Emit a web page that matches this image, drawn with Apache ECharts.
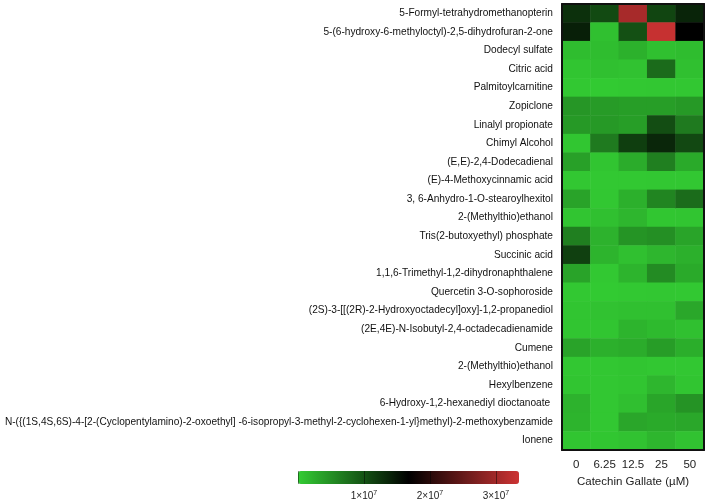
<!DOCTYPE html>
<html>
<head>
<meta charset="utf-8">
<script src="https://cdn.jsdelivr.net/npm/echarts@6/dist/echarts.min.js"></script>
<style>
  html, body { margin: 0; padding: 0; background: #fff; }
  #heat { width: 708px; height: 500px; }
</style>
</head>
<body>
<div id="heat"></div>
<script>
// metabolites (rows, top to bottom)
var compounds = [
  "5-Formyl-tetrahydromethanopterin",
  "5-(6-hydroxy-6-methyloctyl)-2,5-dihydrofuran-2-one",
  "Dodecyl sulfate",
  "Citric acid",
  "Palmitoylcarnitine",
  "Zopiclone",
  "Linalyl propionate",
  "Chimyl Alcohol",
  "(E,E)-2,4-Dodecadienal",
  "(E)-4-Methoxycinnamic acid",
  "3, 6-Anhydro-1-O-stearoylhexitol",
  "2-(Methylthio)ethanol",
  "Tris(2-butoxyethyl) phosphate",
  "Succinic acid",
  "1,1,6-Trimethyl-1,2-dihydronaphthalene",
  "Quercetin 3-O-sophoroside",
  "(2S)-3-[[(2R)-2-Hydroxyoctadecyl]oxy]-1,2-propanediol",
  "(2E,4E)-N-Isobutyl-2,4-octadecadienamide",
  "Cumene",
  "2-(Methylthio)ethanol",
  "Hexylbenzene",
  "6-Hydroxy-1,2-hexanediyl dioctanoate ",
  "N-({(1S,4S,6S)-4-[2-(Cyclopentylamino)-2-oxoethyl] -6-isopropyl-3-methyl-2-cyclohexen-1-yl}methyl)-2-methoxybenzamide",
  "Ionene"
];
// catechin gallate doses (columns)
var doses = ["0", "6.25", "12.5", "25", "50"];

// peak intensity, in units of 1e7, one array per dose
var dose0    = [1.28, 1.42, 0.12, 0.06, 0.03, 0.44, 0.42, 0.05, 0.36, 0.04, 0.34, 0.06, 0.63, 1.15, 0.34, 0.03, 0.06, 0.06, 0.34, 0.04, 0.06, 0.21, 0.20, 0.06];
var dose6_25 = [1.07, 0.10, 0.12, 0.10, 0.02, 0.40, 0.42, 0.67, 0.06, 0.03, 0.04, 0.10, 0.21, 0.20, 0.03, 0.02, 0.08, 0.06, 0.23, 0.04, 0.04, 0.04, 0.04, 0.05];
var dose12_5 = [3.05, 1.02, 0.22, 0.08, 0.03, 0.38, 0.38, 1.17, 0.26, 0.03, 0.23, 0.18, 0.46, 0.10, 0.20, 0.03, 0.10, 0.20, 0.26, 0.06, 0.06, 0.11, 0.31, 0.08];
var dose25   = [1.11, 3.30, 0.10, 0.80, 0.04, 0.38, 1.04, 1.36, 0.63, 0.04, 0.58, 0.05, 0.50, 0.18, 0.53, 0.04, 0.10, 0.15, 0.39, 0.04, 0.18, 0.32, 0.28, 0.18];
var dose50   = [1.38, 1.675, 0.12, 0.10, 0.04, 0.42, 0.67, 1.08, 0.28, 0.04, 0.79, 0.06, 0.33, 0.23, 0.28, 0.03, 0.30, 0.10, 0.25, 0.04, 0.06, 0.47, 0.30, 0.08];

// colour scale range and tick labels (units of 1e7)
var scaleMin = 0;
var scaleMax = 3.35;
var scaleTicks = { 1: "1", 2: "2", 3: "3" };

var columns = [dose0, dose6_25, dose12_5, dose25, dose50];
var cells = [];
columns.forEach(function (col, x) {
  col.forEach(function (v, y) {
    cells.push([x, y, v]);
  });
});

var font = "'Liberation Sans', Arial, sans-serif";
var chart = echarts.init(document.getElementById("heat"));

chart.setOption({
  animation: false,
  grid: [
    { left: 562, right: 4, top: 4, bottom: 50, outerBoundsMode: "none", containLabel: false },
    // colour bar ticks
    { left: 298, top: 471, width: 221, height: 13, outerBoundsMode: "none", containLabel: false }
  ],
  xAxis: [
    {
      type: "category",
      gridIndex: 0,
      data: doses,
      position: "bottom",
      z: 5,
      name: "Catechin Gallate (\u00b5M)",
      nameLocation: "middle",
      nameGap: 26,
      nameTextStyle: { fontFamily: font, fontSize: 11.5, color: "#222" },
      axisLine: { lineStyle: { color: "#111", width: 2 } },
      axisTick: { alignWithLabel: true, length: 6, lineStyle: { color: "#111", width: 1.5 } },
      axisLabel: { fontFamily: font, fontSize: 11.5, color: "#222", margin: 9, interval: 0 },
      splitLine: { show: false }
    },
    {
      type: "category",
      gridIndex: 0,
      data: doses,
      position: "top",
      z: 5,
      axisLine: { lineStyle: { color: "#111", width: 2 } },
      axisTick: { show: false },
      axisLabel: { show: false }
    },
    {
      type: "value",
      gridIndex: 1,
      min: scaleMin,
      max: scaleMax,
      interval: 1,
      z: 5,
      axisLine: { show: false },
      axisTick: { inside: true, length: 13, lineStyle: { color: "rgba(0,0,0,0.45)", width: 1 } },
      splitLine: { show: false },
      axisLabel: {
        margin: 6,
        showMaxLabel: false,
        formatter: function (v) {
          var t = scaleTicks[Math.round(v)];
          if (!t || Math.abs(v - Math.round(v)) > 1e-6) return "";
          return "{b|" + t + "\u00d710}{s|7}";
        },
        rich: {
          b: { fontFamily: font, fontSize: 10, color: "#222" },
          s: { fontFamily: font, fontSize: 7, color: "#222", padding: [0, 0, 6, 0] }
        }
      }
    }
  ],
  yAxis: [
    {
      type: "category",
      gridIndex: 0,
      data: compounds,
      inverse: true,
      z: 5,
      axisLine: { lineStyle: { color: "#111", width: 2 } },
      axisTick: { alignWithLabel: true, length: 6, lineStyle: { color: "#111", width: 1.5 } },
      axisLabel: { fontFamily: font, fontSize: 10.15, color: "#111", margin: 9, interval: 0 },
      splitLine: { show: false }
    },
    {
      type: "category",
      gridIndex: 0,
      data: compounds,
      inverse: true,
      position: "right",
      z: 5,
      axisLine: { lineStyle: { color: "#111", width: 2 } },
      axisTick: { show: false },
      axisLabel: { show: false }
    },
    {
      type: "value",
      gridIndex: 1,
      show: false
    }
  ],
  visualMap: {
    type: "continuous",
    seriesIndex: 0,
    min: scaleMin,
    max: scaleMax,
    orient: "horizontal",
    left: 298,
    top: 471,
    padding: 0,
    itemWidth: 13,
    itemHeight: 221,
    calculable: false,
    showLabel: false,
    text: ["", ""],
    inRange: { color: ["#33cc33", "#000000", "#cc3333"] }
  },
  series: [
    {
      type: "heatmap",
      xAxisIndex: 0,
      yAxisIndex: 0,
      data: cells,
      itemStyle: { borderWidth: 0 },
      emphasis: { disabled: true }
    }
  ]
});
</script>
</body>
</html>
